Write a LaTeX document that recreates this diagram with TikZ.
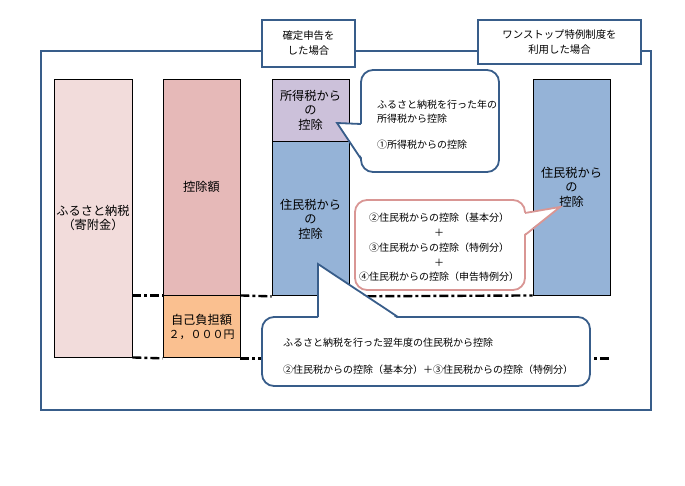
\documentclass[tikz,border=0pt]{standalone}
\usepackage{fontspec}
\setmainfont{Noto Sans CJK JP}
\usetikzlibrary{positioning}
\definecolor{frameblue}{HTML}{385D8A}
\definecolor{kifupink}{HTML}{F2DCDB}
\definecolor{koujopink}{HTML}{E6B9B8}
\definecolor{jikoorange}{HTML}{FAC090}
\definecolor{shotokupurple}{HTML}{CCC1DA}
\definecolor{juminblue}{HTML}{95B3D7}
\definecolor{notepink}{HTML}{D99694}

\begin{document}
\begin{tikzpicture}[x=1pt,y=-1pt,every node/.style={align=center,inner sep=0pt},
  bar/.style={draw=black,line width=0.9pt,minimum width=77pt,font=\fontsize{12.2}{14.5}\selectfont},
  tag/.style={draw=frameblue,line width=1.8pt,fill=white,font=\fontsize{10.4}{15}\selectfont},
  note/.style={draw=frameblue,line width=1.8pt,fill=white,rounded corners=12pt},
  notetext/.style={align=left,font=\fontsize{10}{13.5}\selectfont},
  limitline/.style={line width=2.4pt,dash pattern=on 9pt off 3pt on 3pt off 3pt}]
\useasboundingbox (0,0) rectangle (685,485);
% outer frame
\draw[frameblue,line width=1.8pt] (41,51) rectangle (651,410);
% columns
\node[bar,fill=kifupink,minimum width=78pt,minimum height=278pt] (kifu) at (93,218) {ふるさと納税\\（寄附金）};
\node[bar,fill=koujopink,minimum height=216pt] (koujo) at (201.5,187) {控除額};
\node[bar,fill=jikoorange,minimum height=62pt,below=0pt of koujo] (jiko) {自己負担額\\{\fontsize{11}{14.5}\selectfont ２，０００円}};
\node[bar,fill=shotokupurple,minimum height=62pt] (shotoku) at (310.5,110) {所得税から\\の\\控除};
\node[bar,fill=juminblue,minimum height=154pt,below=0pt of shotoku] (jumin) {住民税から\\の\\控除};
\node[bar,fill=juminblue,minimum height=216pt] (onestop) at (571.5,187) {住民税から\\の\\控除};
% limit lines
\draw[limitline] (kifu.east |- koujo.south) -- (koujo.south west);
\draw[limitline] (koujo.south east) -- (jumin.south west);
\draw[limitline] (jumin.south east) -- (onestop.south west);
\draw[limitline] (kifu.south east) -- (jiko.south west);
\draw[limitline] (jiko.south east) -- (onestop.east |- jiko.south);
% case tags
\node[tag,minimum width=93pt,minimum height=47pt] (kakuteiTag) at (308.5,43.5) {確定申告を\\した場合};
\node[tag,minimum width=163pt,minimum height=44pt] (onestopTag) at (559.5,42) {ワンストップ特例制度を\\利用した場合};
% callout: income tax
\node[note,minimum width=138pt,minimum height=102pt] (noteShotoku) at (430,121) {};
\coordinate (tipShotoku) at (337,123);
\fill[white] (tipShotoku) -- (363,124) -- (363,159) -- cycle;
\draw[frameblue,line width=1.8pt] (361,124) -- (tipShotoku) -- (361,159);
\node[notetext,anchor=west] (textShotoku) at (377,125) {ふるさと納税を行った年の\\所得税から控除\\[13pt]①所得税からの控除};
% callout: next year
\node[note,minimum width=328pt,minimum height=69pt] (noteYokunen) at (426,351.5) {};
\coordinate (tipYokunen) at (318,264);
\fill[white] (tipYokunen) -- (318,319) -- (398,319) -- cycle;
\draw[frameblue,line width=1.8pt] (318,317) -- (tipYokunen) -- (398,317);
\node[notetext,anchor=west] (textYokunen) at (283,356.5) {ふるさと納税を行った翌年度の住民税から控除\\[13.5pt]②住民税からの控除（基本分）＋③住民税からの控除（特例分）};
% callout: resident tax
\node[note,draw=notepink,minimum width=170pt,minimum height=90pt] (noteJumin) at (440,245) {};
\coordinate (tipJumin) at (560,207);
\fill[white] (tipJumin) -- (523,213) -- (523,235) -- cycle;
\draw[notepink,line width=1.8pt] (525,213) -- (tipJumin) -- (525,235);
\node[font=\fontsize{10}{14.8}\selectfont] (textJumin) at (439,247.5) {②住民税からの控除（基本分）\\＋\\③住民税からの控除（特例分）\\＋\\④住民税からの控除（申告特例分）};
\end{tikzpicture}
\end{document}
